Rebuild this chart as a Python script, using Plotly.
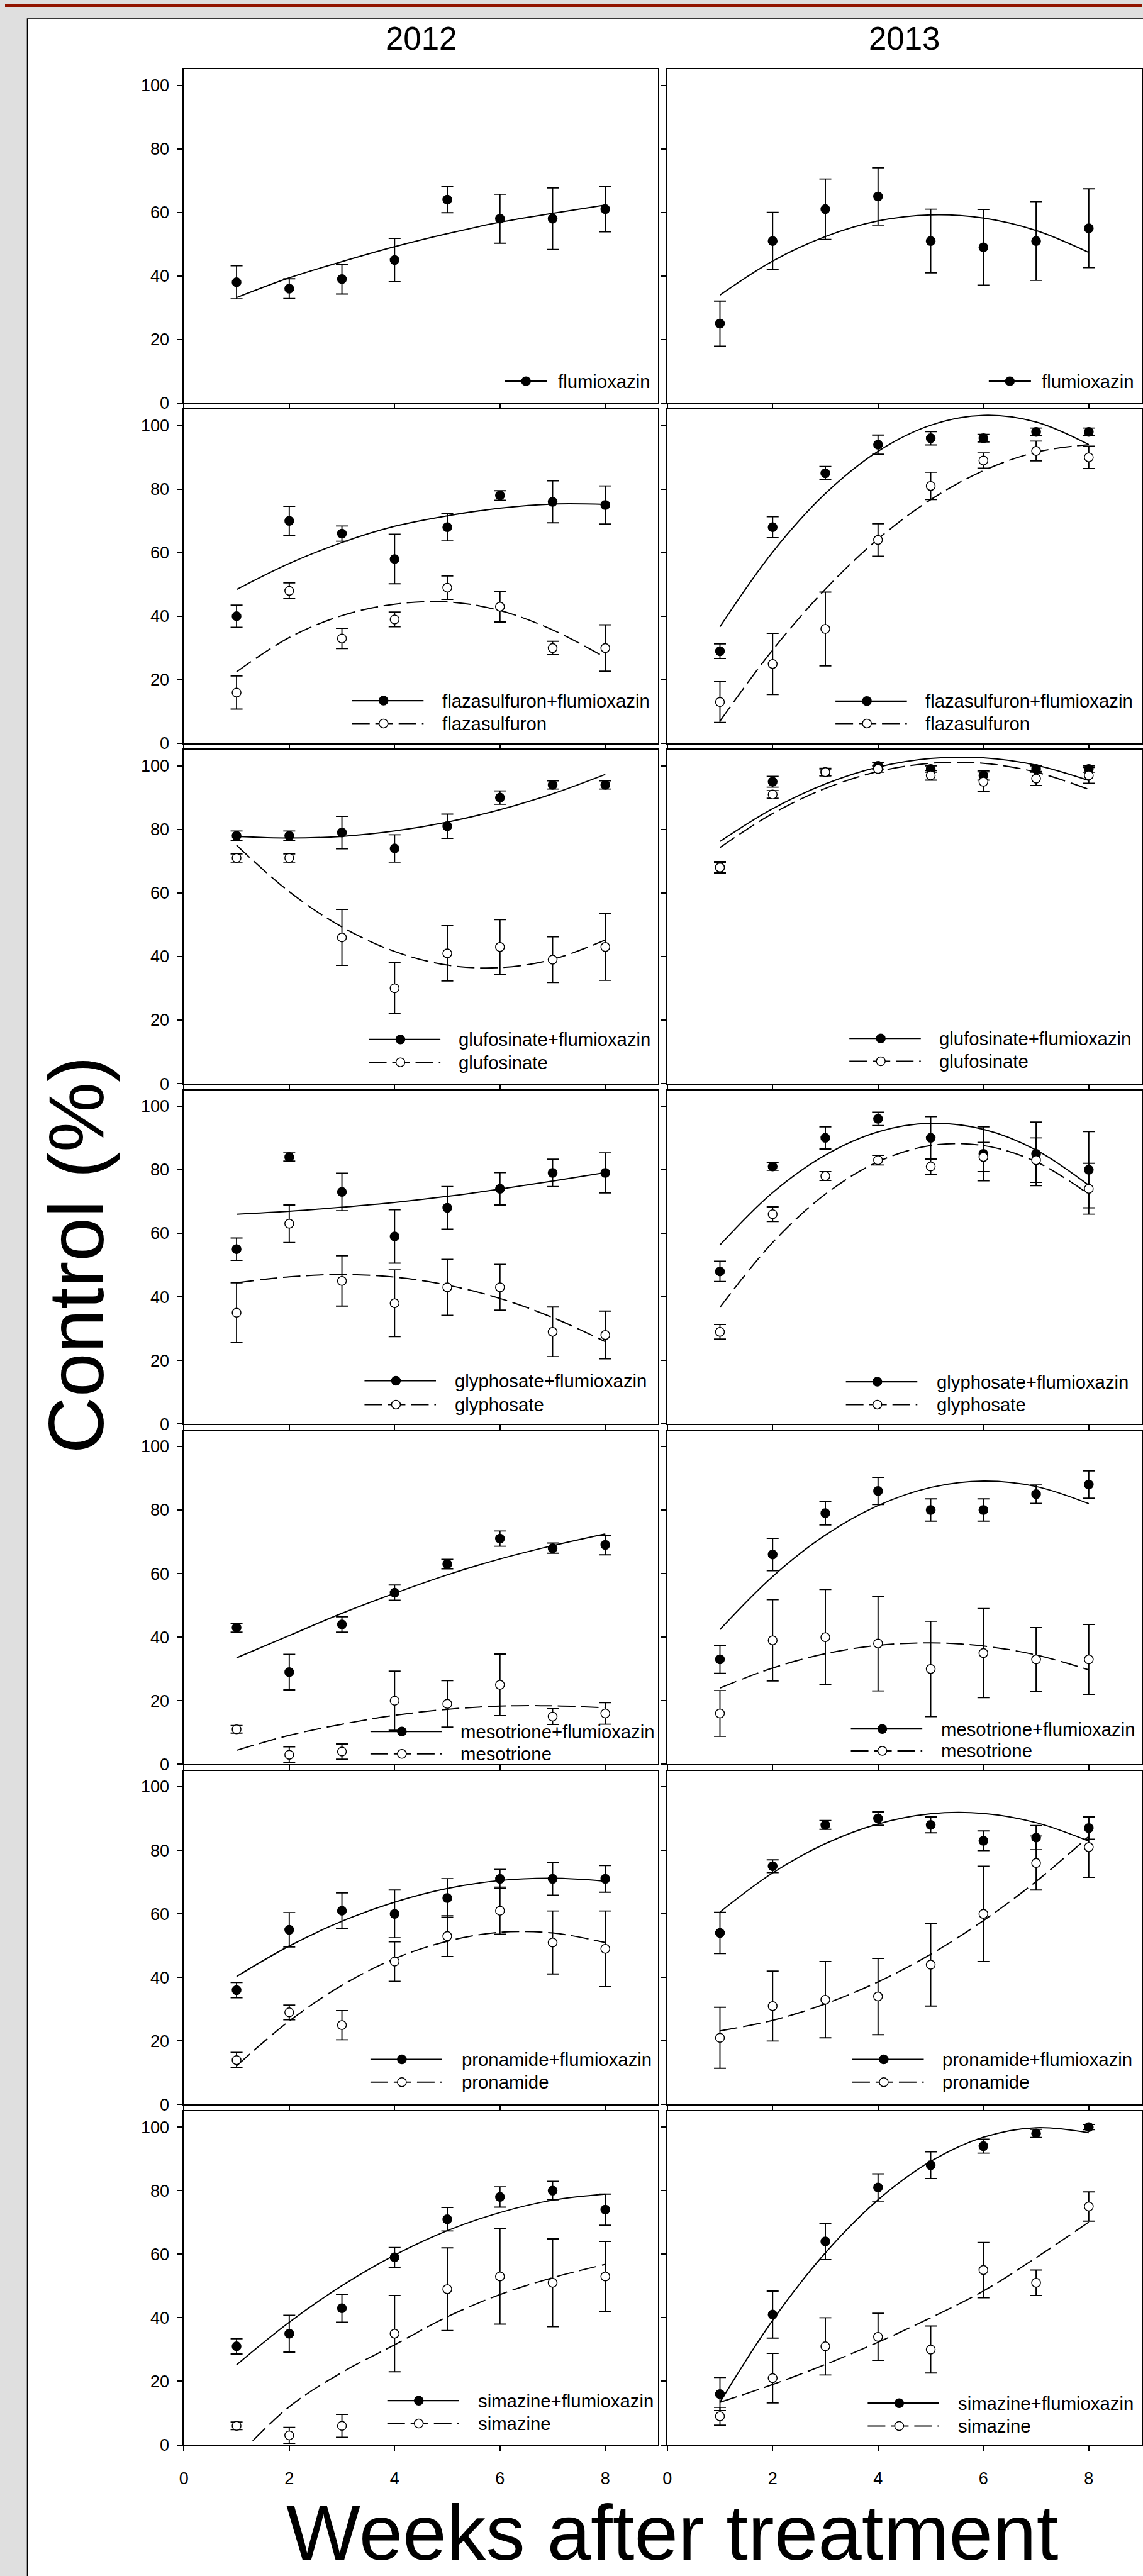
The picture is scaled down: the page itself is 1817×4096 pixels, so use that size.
import plotly.graph_objects as go

# ---------------- data ----------------
weeks = [1, 2, 3, 4, 5, 6, 7, 8]
years = ["2012", "2013"]
x_ticks = [0, 2, 4, 6, 8]
y_ticks = [0, 20, 40, 60, 80, 100]

# flumioxazin alone
flum_2012 = [38, 36, 39, 45, 64, 58, 58, 61]
flum_2012_se = [5.2, 3.1, 4.7, 6.8, 4.1, 7.7, 9.7, 7.1]
flum_2012_fit = [33.2, 39.4, 44.5, 49.2, 53.3, 56.9, 59.7, 62.3]
flum_2013 = [25, 51, 61, 65, 51, 49, 51, 55]
flum_2013_se = [7.1, 9.0, 9.5, 9.0, 10.0, 11.9, 12.4, 12.4]
flum_2013_fit = [34.0, 44.7, 52.4, 57.3, 59.2, 58.2, 54.3, 47.4]

# flazasulfuron
flaz_mix_2012 = [40, 70, 66, 58, 68, 78, 76, 75]
flaz_mix_2012_se = [3.5, 4.6, 2.4, 7.8, 4.3, 1.5, 6.6, 6.0]
flaz_mix_2012_fit = [48.4, 56.6, 63.2, 68.3, 71.6, 74.0, 75.3, 75.2]
flaz_2012 = [16, 48, 33, 39, 49, 43, 30, 30]
flaz_2012_se = [5.2, 2.5, 3.2, 2.3, 3.7, 4.8, 2.1, 7.3]
flaz_2012_fit = [22.5, 33.3, 40.2, 43.8, 44.5, 41.8, 35.7, 27.0]
flaz_mix_2013 = [29, 68, 85, 94, 96, 96, 98, 98]
flaz_mix_2013_se = [2.3, 3.3, 2.1, 3.0, 2.1, 1.2, 1.2, 1.2]
flaz_mix_2013_fit = [36.7, 60.2, 78.6, 91.9, 100.1, 103.2, 101.1, 94.0]
flaz_2013 = [13, 25, 36, 64, 81, 89, 92, 90]
flaz_2013_se = [6.4, 9.6, 11.6, 5.1, 4.3, 2.4, 3.1, 3.5]
flaz_2013_fit = [7.0, 29.4, 48.5, 64.3, 76.7, 85.8, 91.6, 94.0]

# glufosinate
gluf_mix_2012 = [78, 78, 79, 74, 81, 90, 94, 94]
gluf_mix_2012_se = [1.5, 1.5, 5.1, 4.3, 3.8, 2.1, 1.3, 1.3]
gluf_mix_2012_fit = [77.8, 77.3, 77.8, 79.5, 82.3, 86.2, 91.2, 97.3]
gluf_2012 = [71, 71, 46, 30, 41, 43, 39, 43]
gluf_2012_se = [1.3, 1.3, 8.8, 8.0, 8.7, 8.6, 7.2, 10.5]
gluf_2012_fit = [75.0, 60.4, 49.3, 41.6, 37.3, 36.5, 39.1, 45.2]
gluf_mix_2013 = [68, 95, 98, 100, 99, 97, 99, 99]
gluf_mix_2013_se = [1.5, 1.7, 1.0, 1.0, 1.0, 1.5, 1.0, 1.0]
gluf_mix_2013_fit = [76.2, 86.5, 94.3, 99.6, 102.3, 102.5, 100.2, 95.4]
gluf_2013 = [68, 91, 98, 99, 97, 95, 96, 97]
gluf_2013_se = [1.9, 1.2, 1.2, 1.0, 1.5, 3.1, 2.2, 2.5]
gluf_2013_fit = [74.3, 85.0, 92.9, 98.2, 100.8, 100.8, 98.0, 92.6]

# glyphosate
glyp_mix_2012 = [55, 84, 73, 59, 68, 74, 79, 79]
glyp_mix_2012_se = [3.5, 1.3, 5.9, 8.4, 6.7, 5.1, 4.3, 6.3]
glyp_mix_2012_fit = [66.0, 66.9, 68.2, 69.7, 71.6, 73.9, 76.4, 79.1]
glyp_2012 = [35, 63, 45, 38, 43, 43, 29, 28]
glyp_2012_se = [9.4, 5.9, 7.9, 10.5, 8.8, 7.2, 7.8, 7.5]
glyp_2012_fit = [44.4, 46.3, 47.0, 46.2, 43.7, 39.5, 33.5, 25.9]
glyp_mix_2013 = [48, 81, 90, 96, 90, 85, 85, 80]
glyp_mix_2013_se = [3.2, 1.2, 3.5, 2.1, 6.7, 8.5, 10.0, 12.0]
glyp_mix_2013_fit = [56.3, 72.8, 84.6, 91.9, 94.6, 92.7, 86.2, 75.1]
glyp_2013 = [29, 66, 78, 83, 81, 84, 83, 74]
glyp_2013_se = [2.3, 2.3, 1.4, 1.5, 2.4, 4.6, 7.0, 8.0]
glyp_2013_fit = [36.7, 57.1, 72.3, 82.5, 87.6, 87.6, 82.5, 72.3]

# mesotrione
meso_mix_2012 = [43, 29, 44, 54, 63, 71, 68, 69]
meso_mix_2012_se = [1.4, 5.6, 2.4, 2.4, 1.5, 2.4, 1.6, 3.1]
meso_mix_2012_fit = [33.5, 40.5, 47.5, 53.8, 59.6, 64.6, 68.8, 72.5]
meso_2012 = [11, 3, 4, 20, 19, 25, 15, 16]
meso_2012_se = [1.2, 2.5, 2.4, 9.3, 7.3, 9.7, 2.5, 3.4]
meso_2012_fit = [4.4, 9.1, 12.6, 15.4, 17.3, 18.3, 18.4, 17.8]
meso_mix_2013 = [33, 66, 79, 86, 80, 80, 85, 88]
meso_mix_2013_se = [4.4, 5.1, 3.7, 4.3, 3.5, 3.5, 2.9, 4.3]
meso_mix_2013_fit = [42.4, 59.1, 72.1, 81.4, 87.1, 89.1, 87.4, 82.0]
meso_2013 = [16, 39, 40, 38, 30, 35, 33, 33]
meso_2013_se = [7.2, 12.8, 15.0, 14.9, 15.0, 14.0, 10.0, 11.0]
meso_2013_fit = [24.0, 30.3, 34.8, 37.4, 38.2, 37.2, 34.4, 29.7]

# pronamide
pron_mix_2012 = [36, 55, 61, 60, 65, 71, 71, 71]
pron_mix_2012_se = [2.4, 5.4, 5.6, 7.5, 6.1, 3.0, 5.1, 4.2]
pron_mix_2012_fit = [40.3, 49.9, 57.7, 63.7, 68.0, 70.5, 71.2, 70.3]
pron_2012 = [14, 29, 25, 45, 53, 61, 51, 49]
pron_2012_se = [2.4, 2.3, 4.6, 6.2, 6.4, 7.4, 9.9, 11.9]
pron_2012_fit = [12.2, 26.3, 37.5, 45.9, 51.4, 54.2, 54.0, 51.0]
pron_mix_2013 = [54, 75, 88, 90, 88, 83, 84, 87]
pron_mix_2013_se = [6.5, 2.0, 1.4, 2.1, 2.5, 3.1, 3.8, 3.5]
pron_mix_2013_fit = [60.6, 72.9, 82.1, 88.3, 91.5, 91.6, 88.7, 82.9]
pron_2013 = [21, 31, 33, 34, 44, 60, 76, 81]
pron_2013_se = [9.6, 11.0, 12.0, 12.0, 13.0, 15.0, 8.5, 9.5]
pron_2013_fit = [23.2, 26.5, 31.7, 38.6, 47.3, 57.9, 70.2, 84.4]

# simazine
sima_mix_2012 = [31, 35, 43, 59, 71, 78, 80, 74]
sima_mix_2012_se = [2.4, 5.8, 4.4, 3.1, 3.7, 3.2, 2.9, 4.9]
sima_mix_2012_fit = [25.2, 38.6, 50.1, 59.7, 67.4, 73.1, 77.0, 78.9]
sima_2012 = [6, 3, 6, 35, 49, 53, 51, 53]
sima_2012_se = [1.2, 2.5, 3.6, 12.0, 13.0, 15.0, 13.8, 11.0]
sima_2012_fit = [-4.0, 12.0, 22.8, 31.5, 40.3, 47.3, 52.6, 56.8]
sima_mix_2013 = [16, 41, 64, 81, 88, 94, 98, 100]
sima_mix_2013_se = [5.2, 7.4, 5.7, 4.3, 4.2, 2.2, 1.3, 0.8]
sima_mix_2013_fit = [13.4, 39.2, 60.4, 77.1, 89.2, 96.8, 99.8, 98.2]
sima_2013 = [9, 21, 31, 34, 30, 55, 51, 75]
sima_2013_se = [2.8, 7.8, 9.0, 7.4, 7.4, 8.7, 4.0, 4.6]
sima_2013_fit = [13.4, 19.0, 25.3, 32.3, 40.0, 48.4, 58.9, 70.1]

# (legend name, values, se, fitted curve, filled marker/solid line)
panels = [
    [[("flumioxazin", flum_2012, flum_2012_se, flum_2012_fit, True)],
     [("flumioxazin", flum_2013, flum_2013_se, flum_2013_fit, True)]],
    [[("flazasulfuron+flumioxazin", flaz_mix_2012, flaz_mix_2012_se, flaz_mix_2012_fit, True),
      ("flazasulfuron", flaz_2012, flaz_2012_se, flaz_2012_fit, False)],
     [("flazasulfuron+flumioxazin", flaz_mix_2013, flaz_mix_2013_se, flaz_mix_2013_fit, True),
      ("flazasulfuron", flaz_2013, flaz_2013_se, flaz_2013_fit, False)]],
    [[("glufosinate+flumioxazin", gluf_mix_2012, gluf_mix_2012_se, gluf_mix_2012_fit, True),
      ("glufosinate", gluf_2012, gluf_2012_se, gluf_2012_fit, False)],
     [("glufosinate+flumioxazin", gluf_mix_2013, gluf_mix_2013_se, gluf_mix_2013_fit, True),
      ("glufosinate", gluf_2013, gluf_2013_se, gluf_2013_fit, False)]],
    [[("glyphosate+flumioxazin", glyp_mix_2012, glyp_mix_2012_se, glyp_mix_2012_fit, True),
      ("glyphosate", glyp_2012, glyp_2012_se, glyp_2012_fit, False)],
     [("glyphosate+flumioxazin", glyp_mix_2013, glyp_mix_2013_se, glyp_mix_2013_fit, True),
      ("glyphosate", glyp_2013, glyp_2013_se, glyp_2013_fit, False)]],
    [[("mesotrione+flumioxazin", meso_mix_2012, meso_mix_2012_se, meso_mix_2012_fit, True),
      ("mesotrione", meso_2012, meso_2012_se, meso_2012_fit, False)],
     [("mesotrione+flumioxazin", meso_mix_2013, meso_mix_2013_se, meso_mix_2013_fit, True),
      ("mesotrione", meso_2013, meso_2013_se, meso_2013_fit, False)]],
    [[("pronamide+flumioxazin", pron_mix_2012, pron_mix_2012_se, pron_mix_2012_fit, True),
      ("pronamide", pron_2012, pron_2012_se, pron_2012_fit, False)],
     [("pronamide+flumioxazin", pron_mix_2013, pron_mix_2013_se, pron_mix_2013_fit, True),
      ("pronamide", pron_2013, pron_2013_se, pron_2013_fit, False)]],
    [[("simazine+flumioxazin", sima_mix_2012, sima_mix_2012_se, sima_mix_2012_fit, True),
      ("simazine", sima_2012, sima_2012_se, sima_2012_fit, False)],
     [("simazine+flumioxazin", sima_mix_2013, sima_mix_2013_se, sima_mix_2013_fit, True),
      ("simazine", sima_2013, sima_2013_se, sima_2013_fit, False)]],
]

# ---------------- layout geometry (reference pixels) ----------------
W_REF, H_REF = 2291, 5164
FIG_W, FIG_H = 1817, 4096
FONT = "Liberation Sans, Arial, sans-serif"

COL_LEFT = [360.5, 1334.7]
COL_RIGHT = [1316.0, 2290.5]
ROW_TOP0, ROW_STEP, ROW_H = 139.5, 684.7, 671.5

# legend placement per panel [row][col]: line start, text start (px from panel left),
# entry heights above panel bottom
LEG_LINE = [[647, 648], [339, 339], [373, 367], [364, 360], [376, 370], [376, 373], [410, 404]]
LEG_TEXT = [[751, 752], [518, 518], [551, 546], [543, 540], [555, 549], [558, 552], [591, 583]]
LEG_LEN = [85, 144]
LEG_UP = [[[44], [44]],
          [[86, 40], [85, 40]],
          [[89, 43], [91, 45]],
          [[87, 39], [85, 39]],
          [[66, 21], [71, 27]],
          [[91, 45], [91, 45]],
          [[89, 43], [84, 38]]]


def px_x(px):
    return px / W_REF


def px_y(py):
    return 1 - py / H_REF


DASH = "28px,9px"
MARKER_SIZE = 14
LINE_W = 2.0
fig = go.Figure()
shapes = []
annotations = []
axes = {}

# background: grey window, red rule, white page with black left/top border
shapes.append(dict(type="rect", xref="paper", yref="paper", x0=0, x1=1,
                   y0=px_y(14), y1=px_y(9), fillcolor="#921400", line=dict(width=0),
                   layer="below"))
shapes.append(dict(type="rect", xref="paper", yref="paper", x0=px_x(45), x1=1.02,
                   y0=-0.02, y1=px_y(38), fillcolor="white",
                   line=dict(color="black", width=1.6), layer="below"))

for r, row in enumerate(panels):
    top = ROW_TOP0 + ROW_STEP * r
    bot = top + ROW_H
    for c, series in enumerate(row):
        p = r * 2 + c
        xa = "x" if p == 0 else f"x{p + 1}"
        ya = "y" if p == 0 else f"y{p + 1}"
        axes["xaxis" if p == 0 else f"xaxis{p + 1}"] = dict(
            domain=[px_x(COL_LEFT[c]), px_x(COL_RIGHT[c])], anchor=ya,
            range=[0, 9], tickvals=x_ticks, ticktext=[str(t) for t in x_ticks],
            showticklabels=(r == len(panels) - 1),
            ticks="outside", ticklen=8.5, tickwidth=1.5, tickcolor="black",
            showline=True, mirror=True, linecolor="black", linewidth=1.9,
            showgrid=False, zeroline=False, fixedrange=True,
            tickfont=dict(family=FONT, size=27, color="black"),
            ticklabelstandoff=20)
        axes["yaxis" if p == 0 else f"yaxis{p + 1}"] = dict(
            domain=[px_y(bot), px_y(top)], anchor=xa,
            range=[0, 105], tickvals=y_ticks, ticktext=[str(t) for t in y_ticks],
            showticklabels=(c == 0),
            ticks="outside", ticklen=8, tickwidth=1.5, tickcolor="black",
            showline=True, mirror=True, linecolor="black", linewidth=1.9,
            showgrid=False, zeroline=False, fixedrange=True,
            tickfont=dict(family=FONT, size=27, color="black"),
            ticklabelstandoff=8)

        # fitted curves
        for name, vals, se, fit, filled in series:
            fig.add_trace(go.Scatter(
                x=weeks, y=fit, mode="lines", xaxis=xa, yaxis=ya,
                line=dict(color="black", width=LINE_W, shape="spline",
                          dash="solid" if filled else DASH),
                showlegend=False, hoverinfo="skip"))
        # observed means with error bars
        for name, vals, se, fit, filled in series:
            fig.add_trace(go.Scatter(
                x=weeks, y=vals, mode="markers", xaxis=xa, yaxis=ya, name=name,
                marker=dict(size=MARKER_SIZE, symbol="circle",
                            color="black" if filled else "white",
                            line=dict(color="black", width=1.5)),
                error_y=dict(type="data", array=se, visible=True, color="black",
                             thickness=1.9, width=9.5),
                showlegend=False))

        # legend (drawn inside the panel, bottom right)
        left = COL_LEFT[c]
        llen = LEG_LEN[0] if len(series) == 1 else LEG_LEN[1]
        for k, (name, vals, se, fit, filled) in enumerate(series):
            yy = px_y(bot - LEG_UP[r][c][k])
            x0 = left + LEG_LINE[r][c]
            shapes.append(dict(type="line", xref="paper", yref="paper",
                               x0=px_x(x0), x1=px_x(x0 + llen), y0=yy, y1=yy,
                               line=dict(color="black", width=2.2 if filled else 2.0,
                                         dash="solid" if filled else DASH)))
            mx = x0 + (llen / 2 if len(series) == 1 else 0.44 * llen)
            rad = MARKER_SIZE / 2
            shapes.append(dict(type="circle", xref="paper", yref="paper",
                               xsizemode="pixel", ysizemode="pixel",
                               xanchor=px_x(mx), yanchor=yy,
                               x0=-rad, x1=rad, y0=-rad, y1=rad,
                               fillcolor="black" if filled else "white",
                               line=dict(color="black", width=1.5)))
            annotations.append(dict(text=name, xref="paper", yref="paper",
                                    x=px_x(left + LEG_TEXT[r][c]), y=yy,
                                    xanchor="left", yanchor="middle", showarrow=False,
                                    font=dict(family=FONT, size=29.3, color="black")))

# column titles
for c, yr in enumerate(years):
    annotations.append(dict(text=yr, xref="paper", yref="paper",
                            x=px_x((COL_LEFT[c] + COL_RIGHT[c]) / 2), y=px_y(78),
                            xanchor="center", yanchor="middle", showarrow=False,
                            font=dict(family=FONT, size=51, color="black")))

# axis titles
annotations.append(dict(text="Control (%)", xref="paper", yref="paper",
                        x=px_x(143), y=px_y(2525), textangle=-90,
                        xanchor="center", yanchor="middle", showarrow=False,
                        font=dict(family=FONT, size=125, color="black")))
annotations.append(dict(text="Weeks after treatment", xref="paper", yref="paper",
                        x=px_x(1345), y=px_y(5095),
                        xanchor="center", yanchor="middle", showarrow=False,
                        font=dict(family=FONT, size=125, color="black")))

fig.update_layout(
    width=FIG_W, height=FIG_H,
    margin=dict(l=0, r=0, t=0, b=0, pad=0),
    paper_bgcolor="#dfdfdf", plot_bgcolor="white",
    showlegend=False,
    font=dict(family=FONT, color="black"),
    shapes=shapes, annotations=annotations,
    **axes)

fig.write_html(
    "out.html",
    config={"displayModeBar": False},
    post_script="document.body.style.margin='0';document.body.style.padding='0';"
                "document.body.style.overflow='hidden';"
                "document.documentElement.style.overflow='hidden';")
